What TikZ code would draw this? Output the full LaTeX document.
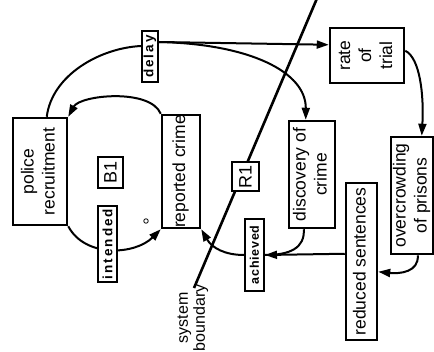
\documentclass[tikz,border=0pt]{standalone}
\usepackage{fontspec}
\setmainfont{Liberation Sans}
\usetikzlibrary{arrows.meta,calc,backgrounds}
\newcommand{\rt}[1]{\rotatebox{90}{\begin{tabular}{@{}c@{}}#1\end{tabular}}}
\tikzset{
  box/.style={draw, line width=2.5pt, fill=white, inner sep=0pt,
    font=\fontsize{17.5}{21}\selectfont},
  lab/.style={draw, line width=2pt, fill=white, inner sep=0pt,
    font=\fontsize{13.5}{15}\selectfont\bfseries\addfontfeatures{LetterSpace=15}},
  labtight/.style={lab, font=\fontsize{12.5}{14}\selectfont\bfseries\addfontfeatures{LetterSpace=6}},
  loopbox/.style={draw, line width=2.3pt, fill=white, inner sep=0pt,
    font=\fontsize{18}{20}\selectfont},
  conn/.style={line width=2pt},
  arr/.style={conn, -{Triangle[length=12pt,width=8pt]}},
  boundary/.style={line width=2.6pt}
}
\begin{document}
\begin{tikzpicture}[x=1pt,y=-1pt]
\useasboundingbox (0,0) rectangle (434,351);
% nodes
\node[box, minimum width=54, minimum height=107] (police) at (40,171.5) {\rt{police\\recruitment}};
\node[box, minimum width=38, minimum height=113] (reported) at (181,171.5) {\rt{reported crime}};
\node[box, minimum width=74, minimum height=55] (rate) at (367,55.5) {\rt{rate\\of\\trial}};
\node[box, minimum width=46, minimum height=107] (discovery) at (312,174.5) {\rt{discovery of\\crime}};
\node[box, minimum width=42, minimum height=117] (overcrowd) at (412,195.5) {\rt{overcrowding\\of prisons}};
\node[box, minimum width=31, minimum height=157] (reduced) at (361.5,261.5) {\rt{reduced sentences}};
\node[loopbox, minimum width=25, minimum height=31] (B1) at (110.5,172.5) {\rotatebox{90}{B1}};
\node[loopbox, minimum width=27, minimum height=29] (R1) at (245.5,176.5) {\rotatebox{90}{R1}};
\node[lab, minimum width=19, minimum height=76] (intended) at (107.5,244) {\rotatebox{90}{intended}};
\node[lab, minimum width=16, minimum height=51] (delay) at (150,56.5) {\rotatebox{90}{delay}};
\node[labtight, minimum width=19, minimum height=72] (achieved) at (254.5,255) {\rotatebox{90}{achieved}};
\node[circle, draw, line width=0.8pt, minimum size=4.5, inner sep=0pt] (pol) at (146,221) {};
\node[inner sep=0pt, font=\fontsize{16}{17}\selectfont] (sblabel) at (193,318) {\rt{system\\boundary}};
\coordinate (sbtop) at (318,-4);
\coordinate (sbbot) at (194,288);
% connectors
\begin{scope}[on background layer]
\fill[white] (0,0) rectangle (434,351);
\draw[boundary] (sbtop) -- (sbbot);
\draw[conn] ($(police.north west)+(35,0)$) .. controls (52,75) and (100,48) .. ($(delay.north west)+(0,16)$);
\draw[arr] ($(delay.north east)+(0,12)$) -- ($(rate.north west)+(0,18)$);
\draw[arr] ($(delay.north east)+(0,12)$) .. controls (250,44) and (306,72) .. ($(discovery.north west)+(18,0)$);
\draw[arr] (reported.north west) .. controls (150,88) and (80,95) .. (police.north east);
\draw[arr] (police.south east) .. controls (85,258) and (135,255) .. (reported.south west);
\draw[conn] ($(discovery.south west)+(16,0)$) .. controls (305,248) and (290,255) .. (achieved.east);
\draw[arr] ($(reduced.north west)+(0,72)$) -- (achieved.east);
\draw[arr] (achieved.west) .. controls (225,255) and (212,248) .. (reported.south east);
\draw[arr] ($(rate.north east)+(0,24)$) .. controls (420,58) and (424,95) .. ($(overcrowd.north west)+(32,0)$);
\draw[arr] ($(overcrowd.south west)+(28,0)$) .. controls (419,272) and (400,274) .. ($(reduced.north east)+(0,90)$);
\end{scope}
\end{tikzpicture}
\end{document}
